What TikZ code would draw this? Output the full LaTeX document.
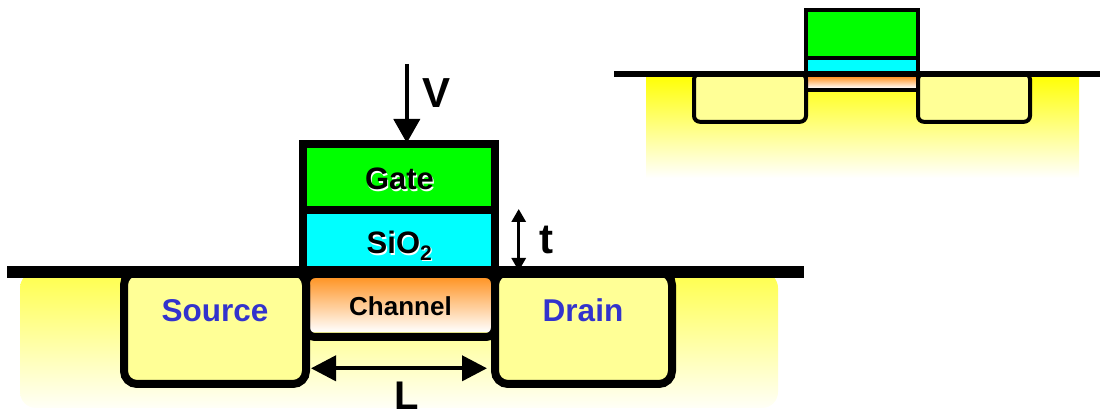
\documentclass[tikz,border=0pt]{standalone}
\usepackage{fontspec}
\setmainfont{Liberation Sans}
\usetikzlibrary{arrows.meta}
\definecolor{gategreen}{RGB}{0,255,0}
\definecolor{oxide}{RGB}{0,255,255}
\definecolor{sdfill}{RGB}{255,255,150}
\definecolor{sdtext}{RGB}{51,51,204}
\definecolor{chorange}{RGB}{255,150,40}
\newcommand\shadowed[1]{\leavevmode\rlap{\kern1.2pt\raisebox{-1.2pt}{\color{white}#1}}#1}
\tikzset{
  lab/.style={font=\fontsize{#1}{#1}\selectfont\bfseries,inner sep=0pt,anchor=base},
  big/.style={lab=42},
  sd/.style={lab=31.5,text=sdtext},
  bigarrow/.style={line width=4pt,-{Triangle[length=24pt,width=26pt]}},
  dblarrow/.style={line width=4pt,{Triangle[length=25pt,width=25pt]}-{Triangle[length=25pt,width=25pt]}},
  smallarrow/.style={line width=3pt,{Triangle[length=13pt,width=14pt]}-{Triangle[length=13pt,width=14pt]}},
  mainline/.style={line width=8pt,line join=miter},
  miniline/.style={line width=4pt,line join=miter},
  chgrad/.style={top color=chorange,bottom color=white},
}
\begin{document}
\begin{tikzpicture}[x=1pt,y=-1pt]
\useasboundingbox (0,0) rectangle (1101,411);
% ---------- main device ----------
\shade[top color=yellow!70!white,middle color=yellow!12!white,bottom color=yellow!3!white,rounded corners=16pt]
  (20,272) rectangle (778,408);
\fill[white] (0,260) rectangle (1101,272);
% channel, source, drain
\shade[chgrad] (306,278) rectangle (495,332);
\draw[mainline,rounded corners=9pt] (306,274) rectangle (495,337);
\draw[mainline,fill=sdfill,rounded corners=13pt] (124,272) rectangle (306,384);
\draw[mainline,fill=sdfill,rounded corners=13pt] (495,272) rectangle (672,384);
% gate stack
\draw[mainline,fill=gategreen] (303,144.5) rectangle (495,210);
\draw[mainline,fill=oxide] (303,210) rectangle (495,272);
\draw[line width=12pt] (7,272) coordinate (surfL) -- (804,272) coordinate (surfR);
% labels
\node[lab=31] (gate) at (399.5,190) {\shadowed{Gate}};
\node[lab=31] (oxide) at (399.5,254) {\shadowed{SiO\textsubscript{\fontsize{21}{21}\selectfont 2}}};
\node[sd] (source) at (215,322) {Source};
\node[sd] (drain) at (583,322) {Drain};
\node[lab=26] (channel) at (400.5,316) {Channel};
\node[big] (v) at (437,108) {V};
\node[big] (t) at (546,254) {t};
\node[lab=40] (l) at (407,409.5) {L};
% arrows
\coordinate (vtop) at (406.8,64);
\coordinate (vtip) at (406.8,143);
\coordinate (tA) at (518.7,209);
\coordinate (tB) at (518.7,271);
\coordinate (lA) at (311,368.3);
\coordinate (lB) at (487,368.3);
\draw[bigarrow] (vtop) -- (vtip);
\draw[smallarrow] (tA) -- (tB);
\draw[dblarrow] (lA) -- (lB);
% ---------- small device ----------
\shade[top color=yellow,bottom color=white] (646,74) rectangle (1079,178);
\shade[chgrad] (806,77) rectangle (918,88);
\draw[miniline] (806,74) rectangle (918,89.8);
\draw[miniline,fill=sdfill,rounded corners=6pt] (694,73.5) rectangle (806,121.8);
\draw[miniline,fill=sdfill,rounded corners=6pt] (918,73.5) rectangle (1030,121.8);
\draw[miniline,fill=gategreen] (806,10) rectangle (918,58);
\draw[miniline,fill=oxide] (806,58) rectangle (918,74);
\draw[line width=6pt] (614,74) coordinate (miniL) -- (1100,74) coordinate (miniR);
\end{tikzpicture}
\end{document}
